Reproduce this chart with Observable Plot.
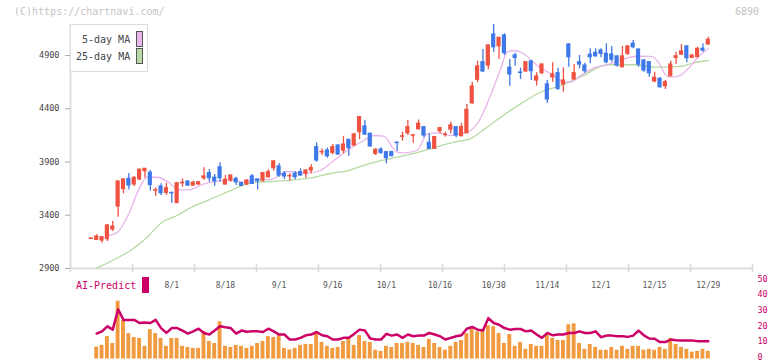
<!DOCTYPE html>
<html><head><meta charset="utf-8">
<script src="https://cdn.jsdelivr.net/npm/d3@7"></script>
<script src="https://cdn.jsdelivr.net/npm/@observablehq/plot@0.6"></script>
<style>
body{margin:0;background:#fff;}
#wrap{position:relative;width:772px;height:361px;overflow:hidden;font-family:"DejaVu Sans Mono",monospace;background:#fff;}
.abs{position:absolute;white-space:nowrap;}
</style></head><body>
<div id="wrap">
  <div id="main" class="abs" style="left:0;top:0"></div>
  <div id="sub" class="abs" style="left:0;top:275px"></div>
  <div class="abs" style="left:14px;top:5px;font-size:10px;line-height:14px;color:#c4c4c4">(C)https://chartnavi.com/</div>
  <div class="abs" style="left:735px;top:5px;font-size:10px;line-height:14px;color:#c4c4c4">6890</div>
  <div class="abs" style="left:70px;top:24px;width:78px;height:48px;box-sizing:border-box;border:1px solid #ddd;background:#fff"></div>
  <div class="abs" style="left:82px;top:34px;font-size:10px;line-height:12px;color:#444">5-day MA</div>
  <div class="abs" style="left:76px;top:51px;font-size:10px;line-height:12px;color:#444">25-day MA</div>
  <div class="abs" style="left:136px;top:31px;width:7px;height:16px;box-sizing:border-box;border:1px solid #555;background:#e9b6e9"></div>
  <div class="abs" style="left:136px;top:48px;width:7px;height:16px;box-sizing:border-box;border:1px solid #555;background:#b7daa6"></div>
  <div class="abs" style="left:76px;top:280px;font-size:10px;line-height:12px;color:#cc0066">AI-Predict</div>
  <div class="abs" style="left:142px;top:277px;width:7px;height:16px;background:#cc0066"></div>
</div>
<script>
// ---- data ----
const dateLabels = ["8/1","8/18","9/1","9/16","10/1","10/16","10/30","11/14","12/1","12/15","12/29"];
const dateLabelIdx = [15,25,35,45,55,65,75,85,95,105,115];
const yTicks = [2900,3400,3900,4400,4900];
const subTicks = [0,10,20,30,40,50];

const opens = [3178,3169,3163,3177,3266,3482,3646,3742,3689,3736,
3814,3799,3630,3670,3611,3610,3515,3700,3717,3679,
3689,3748,3795,3752,3851,3689,3726,3742,3701,3689,
3764,3736,3726,3757,3842,3858,3789,3765,3789,3804,
3789,3820,4039,3990,4008,3986,4055,4008,4108,4055,
4180,4233,4165,3977,4017,3992,3992,4082,4137,4170,
4147,4208,4227,4080,4024,4189,4153,4205,4227,4142,
4170,4452,4672,4837,4806,5097,4987,5088,4785,4900,
4740,4750,4844,4665,4734,4628,4696,4734,4628,5003,
4675,4837,4806,4907,4925,4947,4916,4909,4891,4790,
4916,5010,4956,4853,4837,4656,4681,4612,4706,4878,
4909,4985,4878,4884,4963,5003];
const highs = [3186,3216,3200,3313,3341,3720,3740,3792,3764,3836,
3840,3820,3658,3695,3701,3616,3705,3742,3720,3720,
3715,3846,3830,3783,3892,3773,3775,3757,3705,3733,
3783,3740,3800,3827,3914,3885,3811,3789,3811,3836,
3825,3874,4080,4024,4030,4064,4060,4139,4112,4170,
4325,4290,4170,4024,4033,3995,4000,4086,4180,4290,
4158,4294,4230,4165,4140,4227,4180,4274,4232,4264,
4440,4649,4846,4956,5000,5191,5070,5104,4862,4922,
4781,4840,4853,4738,4820,4665,4831,4781,4785,5010,
4815,4900,4828,4963,4963,4963,5010,4985,4895,4985,
4990,5041,4960,4860,4840,4743,4690,4665,4846,4931,
5003,4990,4905,4978,5010,5072];
const lows = [3172,3163,3137,3153,3247,3382,3601,3637,3670,3726,
3750,3628,3576,3585,3585,3513,3510,3663,3670,3670,
3685,3726,3710,3673,3710,3685,3710,3679,3672,3679,
3689,3637,3710,3750,3814,3757,3736,3720,3733,3767,
3748,3789,3898,3961,3936,3968,3965,3977,3954,4045,
4111,4149,4040,3961,3970,3883,3950,3999,4095,4149,
4077,4200,4127,4020,4020,4165,4133,4165,4127,4140,
4165,4440,4644,4745,4766,4931,4862,4900,4612,4800,
4675,4745,4665,4612,4722,4452,4649,4571,4555,4790,
4670,4775,4734,4822,4884,4878,4822,4837,4790,4785,
4900,4963,4790,4743,4696,4644,4595,4581,4700,4815,
4900,4831,4875,4880,4931,5000];
const closes = [3182,3200,3194,3304,3294,3717,3736,3679,3750,3827,
3836,3684,3635,3607,3654,3606,3700,3705,3679,3705,
3710,3764,3748,3720,3748,3733,3773,3710,3677,3726,
3695,3720,3795,3804,3905,3773,3764,3768,3757,3773,
3820,3842,3914,3995,3954,4039,3970,4064,4030,4158,
4321,4158,4046,4014,3986,3936,3955,4078,4141,4227,
4151,4259,4149,4024,4133,4217,4157,4243,4149,4227,
4390,4609,4797,4750,4994,4978,5066,4922,4722,4878,
4736,4837,4753,4703,4815,4487,4722,4587,4665,4884,
4734,4815,4753,4884,4893,4916,4837,4860,4806,4891,
4985,4978,4815,4759,4734,4691,4602,4649,4815,4893,
4938,4875,4900,4963,4947,5047];

const ma5Idx = [3.4,5.1,7,8.9,10.4,12.3,14.4,16.3,18.2,20.7,23.8,26.3,28.7,30.6,33.4,36.5,40.2,42.7,44.6,47.7,50.8,52.7,54.5,57,58.2,60.7,62.6,64.5,67,68.8,70.7,72.5,74.4,76.3,77.5,78.8,80.6,83.1,85.6,87.5,89.3,91.2,93.7,96.2,99.3,101.7,104.2,105.7,106.9,107.8,109.7,111.5,113.4,115];
const ma5Val = [3210,3250,3414,3648,3757,3757,3710,3639,3639,3689,3720,3733,3710,3733,3736,3811,3795,3820,3889,4008,4102,4149,4142,3992,3986,4008,4165,4174,4149,4165,4196,4306,4524,4775,4931,4947,4916,4806,4728,4665,4649,4712,4783,4813,4869,4893,4891,4837,4728,4696,4712,4790,4900,4963];
const ma25Idx = [1,5.4,7.3,10.4,13.2,16,18.5,21.6,24.1,27.2,30.3,35.3,40.9,44.6,47.7,50.8,53.9,57,60.1,63.2,66.3,68.5,70.7,72.5,76.3,80,83.7,87.5,91.2,96.2,101.1,105.5,109.8,112.3,115];
const ma25Val = [2903,3013,3069,3194,3335,3398,3470,3538,3590,3660,3708,3722,3750,3792,3817,3868,3912,3945,3980,4024,4071,4095,4120,4180,4321,4446,4555,4618,4698,4813,4813,4790,4797,4831,4853];

const aiBars = [6.6,7.7,13.3,8.9,35.8,23.5,15.2,12.7,12.1,7.1,
17.7,15.2,12.1,7.1,12.1,12.1,7.1,6.4,5.8,5.8,
16.4,10.2,8.9,22.7,7.1,6.4,7.7,7.1,5.8,7.1,
8.9,10.2,13.3,12.7,13.9,5.8,4.8,5.8,7.7,8.3,
8.3,15.2,9.6,7.1,5.8,6.4,10.2,12.1,7.7,13.9,
10.2,9.6,4.6,3.9,7.1,6.4,8.9,8.9,9.6,8.9,
7.7,6.4,11.5,8.9,6.4,4.6,7.1,9.6,10.8,15.2,
18.3,16.4,17.7,20.2,19.6,15.2,8.9,14.6,7.1,9.6,
5.2,8.3,7.1,7.1,14.6,12.1,10.8,10.8,20.8,21.4,
8.9,5.2,8.3,6.4,4.6,4.6,6.4,4.6,7.1,5.2,
7.1,7.1,4.6,5.2,4.6,6.4,5.2,12.1,8.3,6.4,
5.2,3.4,3.9,5.2,3.9];
const aiLine = [15.2,16.6,19.8,17.7,30.6,23.9,23.9,23.9,21.9,22.3,
21.9,23.9,18.7,15.6,18.7,18.7,17.1,15.2,16.6,18.3,
15.6,14.6,17.1,19.8,19.2,18.7,15.2,17.1,16.4,16.6,
16.6,16.2,18.3,16.6,14.6,14.6,11.4,11.4,12.5,14.1,
14.6,16.2,14.1,13.5,11.4,11.4,12.5,12.5,15.0,17.7,
17.1,12.1,11.4,11.4,15.0,13.9,14.6,12.5,14.6,13.5,
13.9,13.9,15.6,14.6,13.5,11.4,12.5,13.5,14.1,18.3,
19.4,17.7,17.1,25.0,21.9,20.8,18.7,17.7,18.1,18.1,
16.6,17.1,14.6,12.5,15.6,14.1,14.6,14.6,15.6,15.6,
16.6,15.6,15.6,16.6,12.9,13.9,13.9,13.5,13.5,13.1,
13.9,17.1,14.1,12.1,11.9,9.8,9.8,11.4,11.0,10.8,
10.8,10.8,10.4,10.4,10.4];
const aiStart = 1;

// ---- build tables ----
const candles = opens.map((o, i) => ({i, open: o, high: highs[i], low: lows[i], close: closes[i]}));
const ma5 = ma5Idx.map((i, k) => ({i, v: ma5Val[k]}));
const ma25 = ma25Idx.map((i, k) => ({i, v: ma25Val[k]}));
const bars = aiBars.map((v, k) => ({i: k + aiStart, v}));
const pred = aiLine.map((v, k) => ({i: k + aiStart, v}));
const dates = dateLabels.map((t, k) => ({i: dateLabelIdx[k], t}));

const UP = "#ef5240", DOWN = "#3f78e8";
const col = d => d.close >= d.open ? UP : DOWN;
const X_DOMAIN = [-3.877, 123.24];
const gridTicks = d3.range(12).map(k => X_DOMAIN[0] + k * (X_DOMAIN[1] - X_DOMAIN[0]) / 11);
const FONT = "'DejaVu Sans Mono', monospace";

const main = Plot.plot({
  width: 772, height: 275,
  marginLeft: 70, marginRight: 20, marginTop: 24, marginBottom: 7,
  x: {domain: X_DOMAIN, axis: null},
  y: {domain: [2900, 5191], axis: null},
  style: {background: "transparent", fontFamily: FONT},
  marks: [
    Plot.ruleX(gridTicks, {x: d => d, y1: 2860, y2: 2940, stroke: "#d8d8d8", strokeWidth: 1.5}),
    Plot.ruleY([2900], {stroke: "#dedede", strokeWidth: 2}),
    Plot.ruleX([X_DOMAIN[0]], {stroke: "#dedede", strokeWidth: 2}),
    Plot.axisY({ticks: yTicks, tickSize: 5, tickPadding: 6, fontSize: 8.5, stroke: "#aaa", fill: "#444", tickFormat: d => String(d), label: null}),
    Plot.line(ma25, {x: "i", y: "v", stroke: "#b5daa4", strokeWidth: 1.3, curve: "monotone-x"}),
    Plot.line(ma5, {x: "i", y: "v", stroke: "#e8b5ea", strokeWidth: 1.3, curve: "monotone-x"}),
    Plot.ruleX(candles, {x: "i", y1: "low", y2: "high", stroke: col, strokeWidth: 1.3}),
    Plot.rect(candles, {x1: d => d.i - 0.39, x2: d => d.i + 0.39, y1: "open", y2: "close", fill: col, insetTop: -0.6, insetBottom: -0.6})
  ]
});
document.getElementById("main").appendChild(main);

const sub = Plot.plot({
  width: 772, height: 86,
  marginLeft: 70, marginRight: 20, marginTop: 3.3, marginBottom: 4,
  x: {domain: X_DOMAIN, axis: null},
  y: {domain: [0, 50], axis: null},
  style: {background: "transparent", fontFamily: FONT},
  marks: [
    Plot.rect(bars, {x1: d => d.i - 0.36, x2: d => d.i + 0.36, y1: 0, y2: "v", fill: "#f19a3f", insetBottom: -1.5}),
    Plot.line(pred, {x: "i", y: "v", stroke: "#cc0066", strokeWidth: 2.5, strokeLinejoin: "round"}),
    Plot.axisY({anchor: "right", ticks: subTicks, tickSize: 0, tickPadding: 5, fontSize: 8.5, fill: "#cc0066", label: null}),
    Plot.text(dates, {x: "i", text: "t", frameAnchor: "top", dy: 4, fontSize: 8, fill: "#555"})
  ]
});
document.getElementById("sub").appendChild(sub);
</script>
</body></html>
